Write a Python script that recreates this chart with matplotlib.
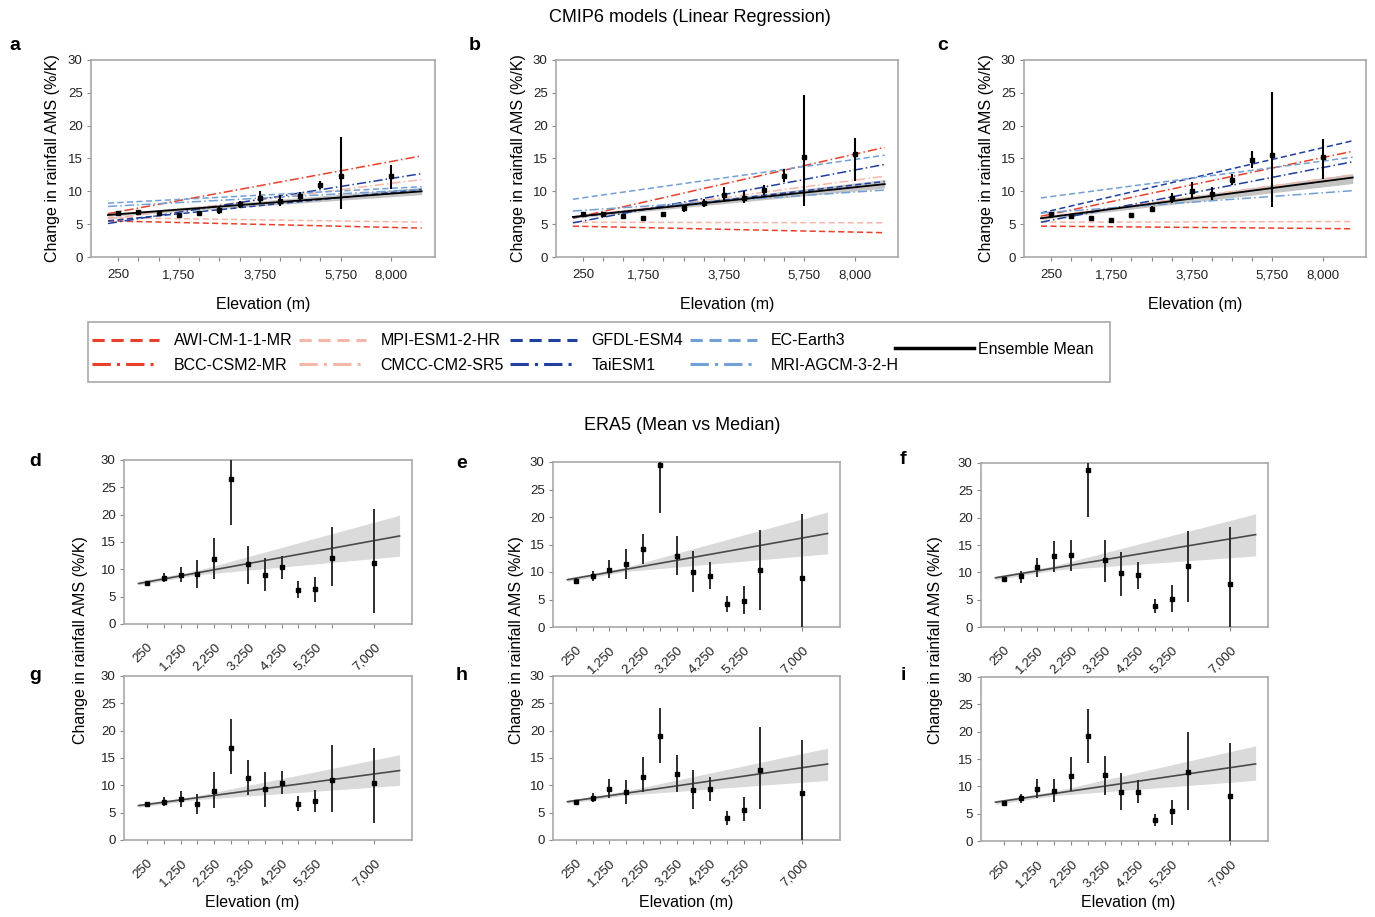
import matplotlib.pyplot as plt
from matplotlib.patches import Rectangle
from matplotlib.lines import Line2D

plt.rcParams['font.family'] = ['Liberation Sans', 'DejaVu Sans']

W, H = 1375, 917

# elevation bands (the highest band is drawn at the 7,000 m position)
elev = [250, 750, 1250, 1750, 2250, 2750, 3250, 3750, 4250, 4750, 5250, 5750, 7000]
top_ticklabels = ['250', '', '', '1,750', '', '', '', '3,750', '', '', '', '5,750', '8,000']
bot_ticklabels = ['250', '', '1,250', '', '2,250', '', '3,250', '', '4,250', '', '5,250', '', '7,000']
fit_x = [0, 7750]
band_x = [0, 1750, 7750]

# CMIP6 models
models = ['AWI-CM-1-1-MR', 'BCC-CSM2-MR', 'MPI-ESM1-2-HR', 'CMCC-CM2-SR5',
          'GFDL-ESM4', 'TaiESM1', 'EC-Earth3', 'MRI-AGCM-3-2-H']
model_colors = ['#e8402a', '#e8402a', '#f4b7a9', '#f4b7a9',
                '#1f3f9e', '#1f3f9e', '#729fd4', '#729fd4']
model_dashes = [(0, (4, 2.2)), (0, (6, 2, 1, 2))] * 4

# regression line of each model at fit_x (start, end)
a_start = [5.5, 6.6, 6.0, 5.8, 5.5, 5.1, 8.2, 7.7]
a_end = [4.4, 15.4, 5.3, 11.8, 10.3, 12.7, 10.7, 10.3]
b_start = [4.7, 5.9, 5.3, 6.0, 6.0, 5.2, 8.8, 7.0]
b_end = [3.7, 16.7, 5.2, 12.3, 11.5, 14.1, 15.5, 10.2]
c_start = [4.7, 6.2, 5.3, 6.0, 6.7, 5.3, 9.0, 6.7]
c_end = [4.3, 16.1, 5.4, 12.5, 17.7, 14.5, 15.2, 10.1]

# ensemble mean fit and its band
a_mean = [6.4, 10.0]
a_mean_lo = [6.2, 9.5]
a_mean_hi = [6.6, 10.6]
b_mean = [6.1, 11.1]
b_mean_lo = [5.9, 10.5]
b_mean_hi = [6.3, 11.8]
c_mean = [5.9, 12.1]
c_mean_lo = [5.7, 11.2]
c_mean_hi = [6.1, 12.7]

# ensemble points with ranges
a_pt = [6.7, 6.9, 6.7, 6.4, 6.7, 7.1, 8.0, 9.0, 8.5, 9.3, 11.0, 12.4, 12.4]
a_lo = [6.5, 6.7, 6.5, 6.3, 6.5, 6.6, 7.4, 8.2, 7.8, 8.7, 10.3, 7.3, 10.4]
a_hi = [6.9, 7.1, 6.9, 6.6, 6.9, 7.6, 8.6, 10.1, 9.4, 9.9, 11.6, 18.3, 14.0]
b_pt = [6.5, 6.6, 6.3, 6.0, 6.6, 7.4, 8.2, 9.4, 9.0, 10.2, 12.4, 15.2, 15.7]
b_lo = [6.4, 6.5, 6.2, 5.9, 6.5, 6.9, 7.6, 8.4, 8.2, 9.4, 11.4, 7.7, 11.5]
b_hi = [6.6, 6.7, 6.4, 6.1, 6.7, 7.9, 8.9, 10.6, 10.0, 11.0, 13.4, 24.7, 18.1]
c_pt = [6.5, 6.3, 6.0, 5.7, 6.4, 7.3, 9.0, 10.1, 9.6, 11.8, 14.8, 15.6, 15.2]
c_lo = [6.4, 6.2, 5.9, 5.6, 6.3, 6.8, 8.2, 9.0, 8.7, 11.0, 13.5, 7.6, 11.9]
c_hi = [6.6, 6.4, 6.1, 5.8, 6.5, 7.8, 9.8, 11.4, 10.7, 12.7, 16.1, 25.2, 18.0]

# ERA5 panels
d_pt = [7.5, 8.4, 8.9, 9.2, 11.9, 26.6, 10.9, 8.9, 10.4, 6.3, 6.4, 12.0, 11.1]
d_lo = [7.2, 7.7, 7.6, 6.6, 8.3, 18.2, 7.4, 6.0, 8.2, 4.8, 4.1, 6.9, 2.0]
d_hi = [7.8, 9.4, 10.4, 11.7, 15.8, 31.0, 14.2, 12.0, 12.4, 7.8, 8.6, 17.7, 21.0]
d_fit = [7.4, 16.1]
d_band_lo = [7.1, 9.0, 12.4]
d_band_hi = [7.8, 9.8, 19.9]

e_pt = [8.4, 9.2, 10.3, 11.5, 14.2, 29.5, 13.0, 10.0, 9.3, 4.1, 4.7, 10.3, 8.9]
e_lo = [8.0, 8.3, 8.9, 8.8, 11.4, 20.8, 9.4, 6.4, 6.9, 2.7, 2.3, 3.1, -0.5]
e_hi = [8.9, 10.2, 12.1, 14.2, 17.0, 31.0, 16.6, 13.8, 11.8, 5.6, 7.4, 17.6, 20.6]
e_fit = [8.6, 17.0]
e_band_lo = [8.3, 10.1, 13.3]
e_band_hi = [8.9, 10.9, 20.9]

f_pt = [8.8, 9.4, 11.0, 12.9, 13.2, 28.8, 12.2, 9.8, 9.5, 3.8, 5.2, 11.1, 7.9]
f_lo = [8.3, 8.1, 9.1, 10.1, 10.3, 20.1, 8.3, 5.7, 6.9, 2.5, 2.7, 4.5, -0.5]
f_hi = [9.2, 10.3, 12.6, 15.7, 15.9, 31.0, 16.0, 13.7, 11.8, 5.1, 7.6, 17.6, 18.3]
f_fit = [9.0, 16.9]
f_band_lo = [8.6, 10.4, 13.0]
f_band_hi = [9.3, 11.2, 20.7]

g_pt = [6.5, 6.9, 7.5, 6.6, 8.9, 16.9, 11.3, 9.3, 10.4, 6.6, 7.1, 11.0, 10.4]
g_lo = [6.2, 6.2, 6.1, 4.8, 5.8, 12.1, 8.2, 6.1, 8.4, 5.3, 5.1, 5.2, 3.2]
g_hi = [6.8, 7.8, 8.9, 8.5, 12.5, 22.1, 14.6, 12.5, 12.6, 8.1, 9.2, 17.4, 16.9]
g_fit = [6.3, 12.7]
g_band_lo = [6.0, 7.4, 10.0]
g_band_hi = [6.6, 8.1, 15.6]

h_pt = [6.9, 7.7, 9.3, 8.7, 11.6, 19.0, 12.1, 9.1, 9.3, 4.1, 5.5, 12.8, 8.6]
h_lo = [6.6, 7.0, 7.6, 6.6, 8.7, 14.0, 8.7, 5.7, 7.2, 2.8, 3.5, 5.7, -0.5]
h_hi = [7.2, 8.6, 11.2, 11.0, 15.1, 24.2, 15.6, 12.8, 11.6, 5.3, 7.8, 20.6, 18.3]
h_fit = [7.0, 13.9]
h_band_lo = [6.7, 8.2, 10.9]
h_band_hi = [7.3, 9.0, 16.8]

i_pt = [6.9, 7.8, 9.6, 9.2, 11.9, 19.2, 12.0, 9.0, 9.0, 3.8, 5.4, 12.7, 8.2]
i_lo = [6.6, 6.9, 7.9, 7.1, 9.2, 14.3, 8.4, 5.7, 6.9, 2.7, 3.0, 5.6, -0.5]
i_hi = [7.3, 8.6, 11.4, 11.4, 15.4, 24.2, 15.6, 12.5, 11.1, 4.9, 7.5, 20.0, 18.0]
i_fit = [7.1, 14.1]
i_band_lo = [6.7, 8.3, 11.1]
i_band_hi = [7.4, 9.1, 17.4]

fig = plt.figure(figsize=(W / 100, H / 100), dpi=100)


def px_axes(l, t, r, b):
    return fig.add_axes([l / W, 1 - b / H, (r - l) / W, (b - t) / H])


def ftext(x, y, s, **kw):
    fig.text(x / W, 1 - y / H, s, **kw)


def style_axes(ax, xlim):
    ax.set_xlim(*xlim)
    ax.set_ylim(0, 30)
    ax.set_yticks(range(0, 31, 5))
    for sp in ax.spines.values():
        sp.set_color('#a8a8a8')
        sp.set_linewidth(1.2)
    ax.tick_params(axis='both', length=3, width=0.8, color='#888888', labelsize=9.5,
                   labelcolor='#222222', pad=3)


# ---- top row: CMIP6 models
top_boxes = [(91, 60, 435, 257), (556, 60, 898, 257), (1024, 60, 1366, 257)]
top_data = [
    (a_start, a_end, a_mean, a_mean_lo, a_mean_hi, a_pt, a_lo, a_hi),
    (b_start, b_end, b_mean, b_mean_lo, b_mean_hi, b_pt, b_lo, b_hi),
    (c_start, c_end, c_mean, c_mean_lo, c_mean_hi, c_pt, c_lo, c_hi),
]
for box, data in zip(top_boxes, top_data):
    start, end, mean, mlo, mhi, pt, lo, hi = data
    ax = px_axes(*box)
    style_axes(ax, (-420, 8080))
    ax.fill_between(fit_x, mlo, mhi, color='#c4c4c4', lw=0, zorder=1)
    for k in range(len(models)):
        ax.plot(fit_x, [start[k], end[k]], color=model_colors[k],
                linestyle=model_dashes[k], lw=1.1, zorder=2)
    ax.plot(fit_x, mean, color='black', lw=1.3, zorder=3)
    ax.vlines(elev, lo, hi, color='black', lw=1.5, zorder=4)
    ax.plot(elev, pt, 's', color='black', ms=2.6, zorder=5)
    ax.set_xticks(elev)
    ax.set_xticklabels(top_ticklabels)
    ax.tick_params(axis='x', pad=6)
    l, t, r, b = box
    ftext(l - 38, (t + b) / 2, 'Change in rainfall AMS (%/K)', rotation=90,
          ha='center', va='center', fontsize=11.5)
    ftext((l + r) / 2, 304, 'Elevation (m)', ha='center', va='center', fontsize=11.5)

for x, letter in [(15, 'a'), (475, 'b'), (943, 'c')]:
    ftext(x, 45, letter, fontsize=14, fontweight='bold', ha='center', va='center')

ftext(690, 17, 'CMIP6 models (Linear Regression)', ha='center', va='center', fontsize=13)
ftext(682, 425, 'ERA5 (Mean vs Median)', ha='center', va='center', fontsize=13)

# ---- legend
handles = [Line2D([], [], color=model_colors[k], linestyle=model_dashes[k], lw=2.2)
           for k in range(len(models))]
fig.legend(handles, models, ncol=4, loc='center left',
           bbox_to_anchor=(78 / W, 1 - 353 / H), frameon=False, fontsize=11.5,
           handlelength=4.2, handletextpad=0.9, columnspacing=0.4, labelspacing=0.6)
fig.legend([Line2D([], [], color='black', lw=2.5)], ['Ensemble Mean'], loc='center left',
           bbox_to_anchor=(881 / W, 1 - 349 / H), frameon=False, fontsize=11.5,
           handlelength=4.9, handletextpad=0.3)
fig.add_artist(Rectangle((88 / W, 1 - 382 / H), (1110 - 88) / W, 60 / H,
                         transform=fig.transFigure, fill=False,
                         edgecolor='#a8a8a8', lw=1.2))

# ---- bottom rows: ERA5
bot_boxes = [(124, 460, 412, 624), (553, 462, 840, 627), (981, 463, 1268, 627),
             (124, 676, 412, 840), (553, 676, 840, 840), (981, 677, 1268, 841)]
bot_data = [
    (d_pt, d_lo, d_hi, d_fit, d_band_lo, d_band_hi),
    (e_pt, e_lo, e_hi, e_fit, e_band_lo, e_band_hi),
    (f_pt, f_lo, f_hi, f_fit, f_band_lo, f_band_hi),
    (g_pt, g_lo, g_hi, g_fit, g_band_lo, g_band_hi),
    (h_pt, h_lo, h_hi, h_fit, h_band_lo, h_band_hi),
    (i_pt, i_lo, i_hi, i_fit, i_band_lo, i_band_hi),
]
for box, data in zip(bot_boxes, bot_data):
    pt, lo, hi, fit, blo, bhi = data
    ax = px_axes(*box)
    style_axes(ax, (-430, 8120))
    ax.fill_between(band_x, blo, bhi, color='#dadada', lw=0, zorder=1)
    ax.plot(fit_x, fit, color='#4a4a4a', lw=1.2, zorder=2)
    ax.vlines(elev, lo, hi, color='#2e2e2e', lw=1.4, zorder=3)
    ax.plot(elev, pt, 's', color='black', ms=2.2, zorder=4)
    ax.set_xticks(elev)
    ax.set_xticklabels(bot_ticklabels, rotation=45, ha='right', rotation_mode='anchor')
    ax.tick_params(axis='x', pad=9)

for x, y, letter in [(35, 462, 'd'), (462, 463, 'e'), (903, 460, 'f'),
                     (35, 675, 'g'), (462, 675, 'h'), (903, 675, 'i')]:
    ftext(x, y, letter, fontsize=14, fontweight='bold', ha='center', va='center')

for x in [81, 516, 935]:
    ftext(x, 640, 'Change in rainfall AMS (%/K)', rotation=90, ha='center',
          va='center', fontsize=11.5)
for x in [252, 686, 1128]:
    ftext(x, 903, 'Elevation (m)', ha='center', va='center', fontsize=11.5)

fig.savefig('out.png', dpi=100, facecolor='white')
